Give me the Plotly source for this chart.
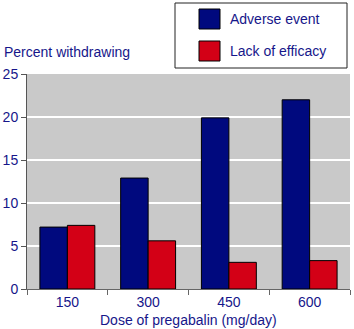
import plotly.graph_objects as go

doses = ["150", "300", "450", "600"]
adverse_event = [7.2, 12.9, 19.9, 22.0]
lack_of_efficacy = [7.4, 5.6, 3.1, 3.3]
series_names = ["Adverse event", "Lack of efficacy"]
y_ticks = [0, 5, 10, 15, 20, 25]

NAVY = "#00097e"
RED = "#d30016"
TEXT = "#16168a"
FONT = "Liberation Sans, Arial, sans-serif"
FS = 14

fig = go.Figure()
fig.add_trace(go.Bar(x=doses, y=adverse_event, name=series_names[0],
                     marker=dict(color=NAVY, line=dict(color="#000000", width=1))))
fig.add_trace(go.Bar(x=doses, y=lack_of_efficacy, name=series_names[1],
                     marker=dict(color=RED, line=dict(color="#000000", width=1))))

W, H = 354, 329
L, R, T, B = 27, 4, 74, 40

fig.update_layout(
    width=W, height=H,
    margin=dict(l=L, r=R, t=T, b=B, pad=0, autoexpand=False),
    paper_bgcolor="white",
    plot_bgcolor="#c9c9c9",
    barmode="group",
    bargap=0.32,
    bargroupgap=0,
    showlegend=False,
    font=dict(family=FONT, size=FS, color=TEXT),
)
fig.update_xaxes(
    type="category",
    automargin=False,
    tickson="boundaries",
    ticks="outside", ticklen=5, tickcolor="#666666", tickwidth=1,
    showline=True, linecolor="#666666", linewidth=1,
    showgrid=False,
    tickfont=dict(size=FS, color=TEXT),
)
fig.update_yaxes(
    automargin=False,
    range=[0, 25],
    tickvals=y_ticks,
    ticks="outside", ticklen=5, tickcolor="#555555", tickwidth=1,
    showline=True, linecolor="#555555", linewidth=1,
    showgrid=True, gridcolor="white", gridwidth=2,
    zeroline=False,
    tickfont=dict(size=FS, color=TEXT),
)

pw, ph = W - L - R, H - T - B
def px(x):
    return (x - L) / pw
def py(y):
    return (H - B - y) / ph

# y-axis title at top-left
fig.add_annotation(text="Percent withdrawing", xref="paper", yref="paper",
                   x=px(2), y=py(52), xanchor="left", yanchor="middle", showarrow=False,
                   font=dict(size=FS, color=TEXT, family=FONT))
# x-axis title
fig.add_annotation(text="Dose of pregabalin (mg/day)", xref="paper", yref="paper",
                   x=px(188), y=py(320), xanchor="center", yanchor="middle", showarrow=False,
                   font=dict(size=FS, color=TEXT, family=FONT))

# manual legend box
fig.add_shape(type="rect", xref="paper", yref="paper",
              x0=px(175), x1=px(347), y0=py(68), y1=py(3),
              line=dict(color="#222222", width=1), fillcolor="white")
colors = [NAVY, RED]
for i, (name, col) in enumerate(zip(series_names, colors)):
    y0 = 9 + i * 32
    fig.add_shape(type="rect", xref="paper", yref="paper",
                  x0=px(199), x1=px(220), y0=py(y0 + 20), y1=py(y0),
                  line=dict(color="#000000", width=1), fillcolor=col)
    fig.add_annotation(text=name, xref="paper", yref="paper",
                       x=px(228), y=py(y0 + 10), xanchor="left", yanchor="middle",
                       showarrow=False, font=dict(size=FS, color=TEXT, family=FONT))

fig.write_html("out.html",
               config={"displayModeBar": False, "staticPlot": True},
               post_script="document.body.style.margin='0';document.body.style.overflow='hidden';")
